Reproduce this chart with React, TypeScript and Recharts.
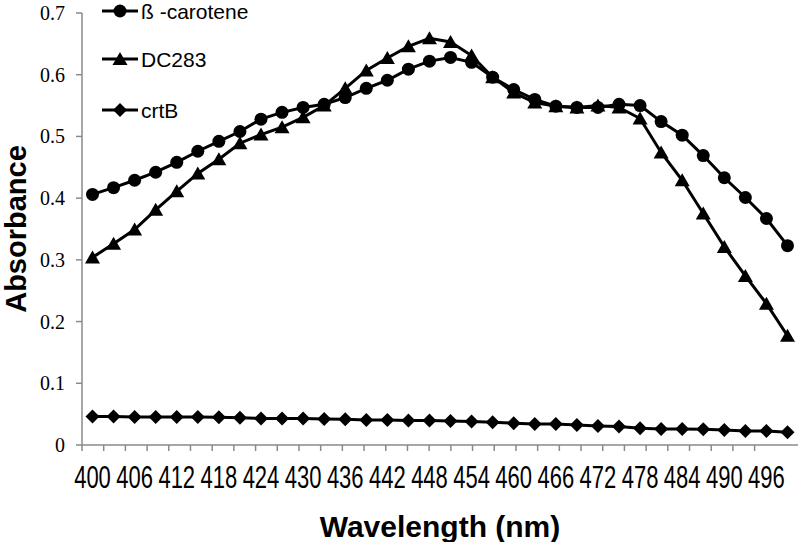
import React from 'react';
import { LineChart, Line, XAxis, YAxis, Legend } from 'recharts';

const wavelengths = [400, 403, 406, 409, 412, 415, 418, 421, 424, 427, 430, 433, 436, 439, 442, 445, 448, 451, 454, 457, 460, 463, 466, 469, 472, 475, 478, 481, 484, 487, 490, 493, 496, 499];

const betaCarotene = [0.406, 0.417, 0.429, 0.442, 0.458, 0.476, 0.492, 0.508, 0.528, 0.539, 0.547, 0.552, 0.563, 0.578, 0.591, 0.609, 0.622, 0.628, 0.62, 0.596, 0.576, 0.56, 0.549, 0.547, 0.547, 0.552, 0.55, 0.524, 0.502, 0.469, 0.433, 0.401, 0.367, 0.323];

const dc283 = [0.304, 0.326, 0.349, 0.381, 0.411, 0.44, 0.463, 0.489, 0.503, 0.515, 0.531, 0.55, 0.578, 0.607, 0.627, 0.646, 0.659, 0.653, 0.631, 0.596, 0.571, 0.555, 0.549, 0.547, 0.55, 0.547, 0.529, 0.474, 0.429, 0.375, 0.321, 0.274, 0.229, 0.177];

const crtB = [0.046, 0.046, 0.0455, 0.0455, 0.0455, 0.0455, 0.045, 0.044, 0.043, 0.0428, 0.0428, 0.0422, 0.0417, 0.0406, 0.0406, 0.0395, 0.0395, 0.039, 0.038, 0.037, 0.0352, 0.0341, 0.0341, 0.0325, 0.0309, 0.0298, 0.0271, 0.026, 0.026, 0.0255, 0.0244, 0.0228, 0.0228, 0.0206];

const seriesNames = ['ß -carotene', 'DC283', 'crtB'];
const yTicks = [0, 0.1, 0.2, 0.3, 0.4, 0.5, 0.6, 0.7];
const boundaryTicks = [0, 1, 2, 3, 4, 5, 6, 7, 8, 9, 10, 11, 12, 13, 14, 15, 16, 17, 18, 19, 20, 21, 22, 23, 24, 25, 26, 27, 28, 29, 30, 31, 32, 33, 34];

const data = wavelengths.map((wl, i) => ({
  wl: String(wl),
  beta: betaCarotene[i],
  dc: dc283[i],
  crt: crtB[i],
}));

const AXIS_COLOR = '#8a8a8a';
const SANS = '"Liberation Sans", Arial, sans-serif';
const SERIF = '"Liberation Serif", "Times New Roman", serif';

function shape(kind: string, cx: number, cy: number, key?: string) {
  if (kind === 'circle') return <circle key={key} cx={cx} cy={cy} r={6.5} fill="#000" />;
  if (kind === 'triangle')
    return <path key={key} d={`M${cx},${cy - 7} L${cx + 7.5},${cy + 6} L${cx - 7.5},${cy + 6} Z`} fill="#000" />;
  return <path key={key} d={`M${cx},${cy - 7} L${cx + 7},${cy} L${cx},${cy + 7} L${cx - 7},${cy} Z`} fill="#000" />;
}

const makeDot = (kind: string) => (props: any) => {
  const { cx, cy, index } = props;
  if (cx == null || cy == null) return <g key={`${kind}-${index}`} />;
  return shape(kind, cx, cy, `${kind}-${index}`);
};

const kinds = ['circle', 'triangle', 'diamond'];
const legendRows = [11, 59, 110];

const renderLegend = () => (
  <svg width={300} height={130} style={{ display: 'block' }}>
    {seriesNames.map((name, i) => (
      <g key={name}>
        <line x1={102} x2={138} y1={legendRows[i]} y2={legendRows[i]} stroke="#000" strokeWidth={3} />
        {shape(kinds[i], 120, legendRows[i])}
        <text x={141} y={legendRows[i]} dominantBaseline="central" fontFamily={SANS} fontSize={21} fill="#000">
          {name}
        </text>
      </g>
    ))}
  </svg>
);

const EmptyTick = () => <g />;

const XTick = (props: any) => {
  const { x, y, payload } = props;
  return (
    <g transform={`translate(${x},${y})`}>
      <text textAnchor="middle" transform="scale(1,1.4)" dy="0.72em" fontFamily={SANS} fontSize={22} fill="#000">
        {payload.value}
      </text>
    </g>
  );
};

const YTick = (props: any) => {
  const { x, y, payload } = props;
  return (
    <text x={x} y={y} textAnchor="end" dominantBaseline="central" fontFamily={SERIF} fontSize={20} fill="#000">
      {String(payload.value)}
    </text>
  );
};

const XTitle = (props: any) => {
  const vb = props.viewBox || {};
  return (
    <text x={vb.x + vb.width / 2} y={vb.y + vb.height - 5} textAnchor="middle" fontFamily={SANS} fontWeight="bold" fontSize={30} fill="#000">
      Wavelength (nm)
    </text>
  );
};

const YTitle = (props: any) => {
  const vb = props.viewBox || {};
  const cx = vb.x + 26;
  const cy = vb.y + vb.height / 2;
  return (
    <text x={cx} y={cy} transform={`rotate(-90, ${cx}, ${cy})`} textAnchor="middle" fontFamily={SANS} fontWeight="bold" fontSize={29} fill="#000">
      Absorbance
    </text>
  );
};

export default function App() {
  return (
    <div style={{ position: 'absolute', left: 0, top: 0, width: 800, height: 542, background: '#fff' }}>
      <LineChart width={800} height={542} data={data} margin={{ top: 13, right: 2, bottom: 0, left: 0 }}>
        <XAxis
          xAxisId="tk"
          type="number"
          domain={[0, 34]}
          ticks={boundaryTicks}
          allowDataOverflow
          mirror
          height={1}
          tickSize={-6}
          tick={<EmptyTick />}
          stroke={AXIS_COLOR}
          tickLine={{ stroke: AXIS_COLOR, strokeWidth: 1.5 }}
          axisLine={{ stroke: AXIS_COLOR, strokeWidth: 1.5 }}
        />
        <XAxis
          dataKey="wl"
          type="category"
          interval={1}
          height={97}
          padding={{ left: 10.5, right: 10.5 }}
          tickSize={6}
          tickMargin={15}
          tickLine={false}
          axisLine={false}
          tick={<XTick />}
          label={{ content: <XTitle /> }}
        />
        <YAxis
          domain={[0, 0.7]}
          ticks={yTicks}
          width={82}
          tickSize={6}
          tickMargin={11}
          stroke={AXIS_COLOR}
          tickLine={{ stroke: AXIS_COLOR, strokeWidth: 1.5 }}
          axisLine={{ stroke: AXIS_COLOR, strokeWidth: 1.5 }}
          tick={<YTick />}
          label={{ content: <YTitle /> }}
        />
        <Legend
          layout="vertical"
          align="center"
          verticalAlign="middle"
          content={renderLegend}
          wrapperStyle={{ position: 'absolute', left: 0, top: 0, width: 300, height: 130 }}
        />
        <Line dataKey="crt" name={seriesNames[2]} stroke="#000" strokeWidth={3} dot={makeDot('diamond')} activeDot={false} isAnimationActive={false} />
        <Line dataKey="dc" name={seriesNames[1]} stroke="#000" strokeWidth={3} dot={makeDot('triangle')} activeDot={false} isAnimationActive={false} />
        <Line dataKey="beta" name={seriesNames[0]} stroke="#000" strokeWidth={3} dot={makeDot('circle')} activeDot={false} isAnimationActive={false} />
      </LineChart>
    </div>
  );
}
